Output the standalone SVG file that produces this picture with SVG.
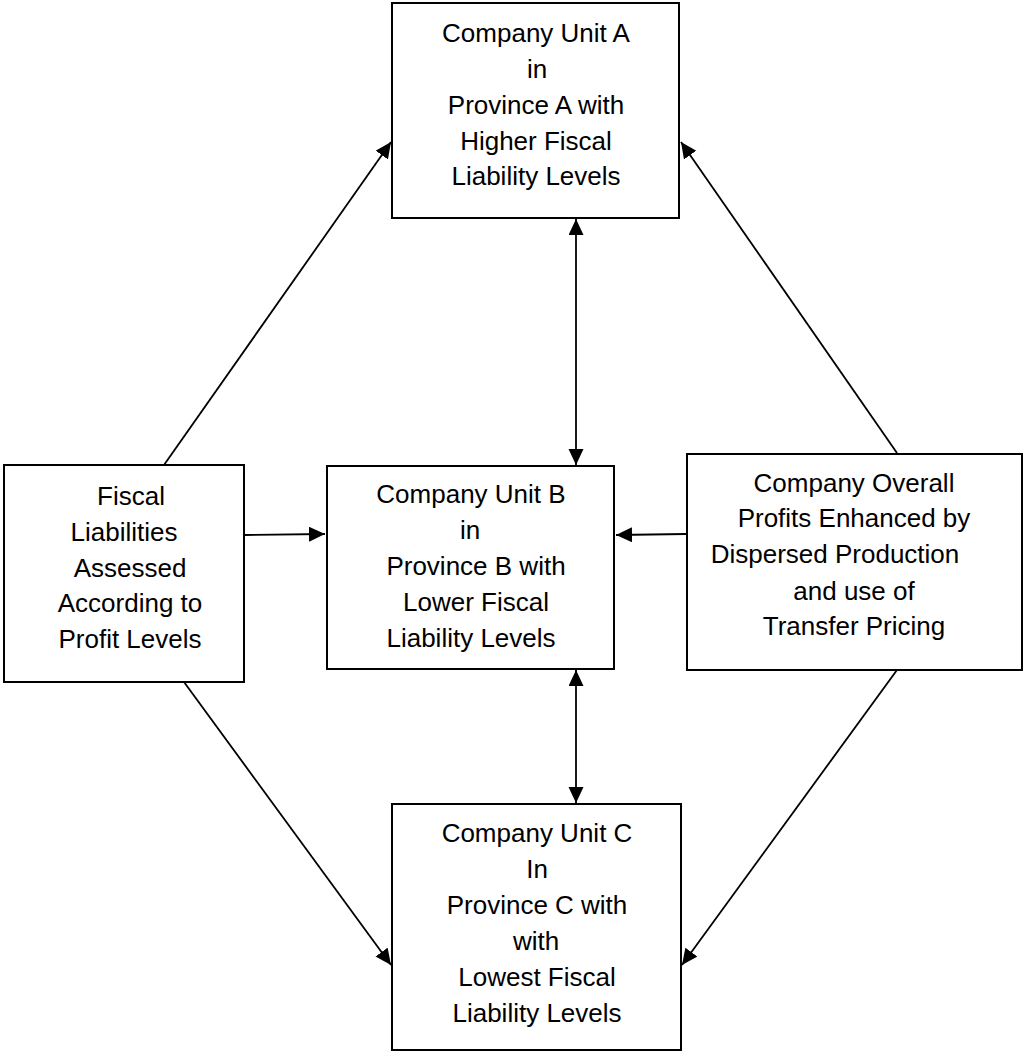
<svg xmlns="http://www.w3.org/2000/svg" width="1023" height="1052" viewBox="0 0 1023 1052">
<style>
.box{fill:#fff;stroke:#000;stroke-width:2}
.lbl{font-family:"Liberation Sans",Arial,sans-serif;font-size:26px;fill:#000;text-anchor:middle}
.con{stroke:#000;stroke-width:1.8;fill:none}
</style>
<defs>
<marker id="ah" markerUnits="userSpaceOnUse" markerWidth="18" markerHeight="16" refX="16" refY="7.5" orient="auto-start-reverse">
<path d="M0,0 L16,7.5 L0,15 Z" fill="#000"/>
</marker>
</defs>
<rect width="1023" height="1052" fill="#fff"/>
<g id="connectors">
<line class="con" x1="576" y1="219" x2="576" y2="465" marker-start="url(#ah)" marker-end="url(#ah)"/>
<line class="con" x1="576" y1="670" x2="576" y2="803" marker-start="url(#ah)" marker-end="url(#ah)"/>
<line class="con" x1="245" y1="535" x2="325" y2="534" marker-end="url(#ah)"/>
<line class="con" x1="686" y1="534" x2="616" y2="535" marker-end="url(#ah)"/>
<line class="con" x1="164" y1="465" x2="391" y2="142" marker-end="url(#ah)"/>
<line class="con" x1="184" y1="682" x2="391" y2="965" marker-end="url(#ah)"/>
<line class="con" x1="897" y1="453" x2="681" y2="142" marker-end="url(#ah)"/>
<line class="con" x1="897" y1="670" x2="682" y2="965" marker-end="url(#ah)"/>
</g>
<g id="unitA">
<rect class="box" x="392" y="3" width="287" height="215"/>
<text class="lbl" x="536" y="42">Company Unit A</text>
<text class="lbl" x="537" y="78">in</text>
<text class="lbl" x="536" y="114">Province A with</text>
<text class="lbl" x="536" y="150">Higher Fiscal</text>
<text class="lbl" x="536" y="185">Liability Levels</text>
</g>
<g id="fiscal">
<rect class="box" x="4" y="465" width="240" height="217"/>
<text class="lbl" x="131" y="505">Fiscal</text>
<text class="lbl" x="124" y="541">Liabilities</text>
<text class="lbl" x="130" y="577">Assessed</text>
<text class="lbl" x="130" y="612">According to</text>
<text class="lbl" x="130" y="648">Profit Levels</text>
</g>
<g id="unitB">
<rect class="box" x="327" y="466" width="287" height="203"/>
<text class="lbl" x="471" y="503">Company Unit B</text>
<text class="lbl" x="470" y="539">in</text>
<text class="lbl" x="476" y="575">Province B with</text>
<text class="lbl" x="476" y="611">Lower Fiscal</text>
<text class="lbl" x="471" y="647">Liability Levels</text>
</g>
<g id="overall">
<rect class="box" x="687" y="454" width="335" height="216"/>
<text class="lbl" x="854" y="492">Company Overall</text>
<text class="lbl" x="854" y="527">Profits Enhanced by</text>
<text class="lbl" x="835" y="563">Dispersed Production</text>
<text class="lbl" x="854" y="600">and use of</text>
<text class="lbl" x="854" y="635">Transfer Pricing</text>
</g>
<g id="unitC">
<rect class="box" x="392" y="804" width="289" height="246"/>
<text class="lbl" x="537" y="842">Company Unit C</text>
<text class="lbl" x="537" y="878">In</text>
<text class="lbl" x="537" y="914">Province C with</text>
<text class="lbl" x="536" y="950">with</text>
<text class="lbl" x="537" y="986">Lowest Fiscal</text>
<text class="lbl" x="537" y="1022">Liability Levels</text>
</g>
</svg>
